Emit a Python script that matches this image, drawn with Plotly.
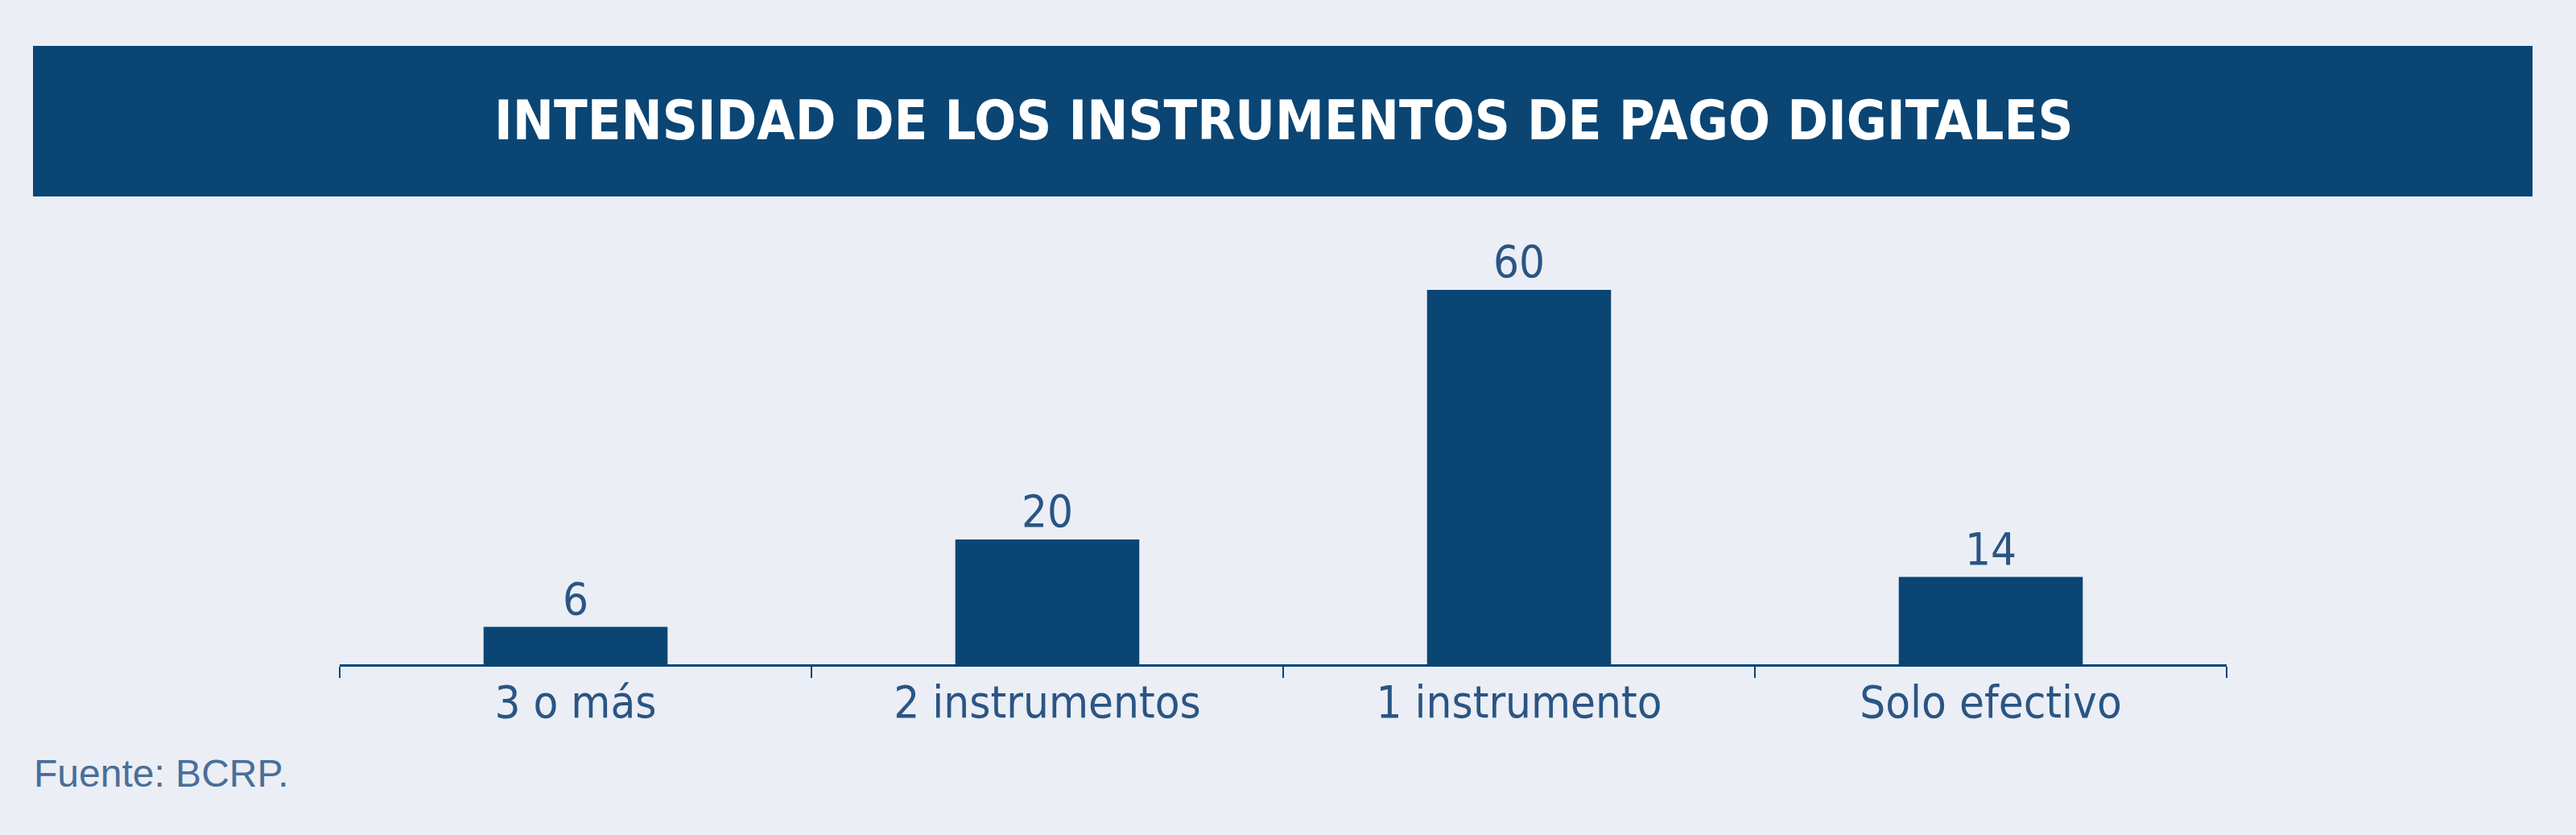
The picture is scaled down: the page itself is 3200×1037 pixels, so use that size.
import plotly.graph_objects as go

# datos del gráfico (porcentaje de personas)
categorias = ["3 o más", "2 instrumentos", "1 instrumento", "Solo efectivo"]
valores = [6, 20, 60, 14]
etiquetas = ["6", "20", "60", "14"]

titulo = "INTENSIDAD DE LOS INSTRUMENTOS DE PAGO DIGITALES"
fuente = "Fuente: BCRP."

AZUL = "#0A4574"
TEXTO = "#2A5584"
FONDO = "#EBEEF5"
FUENTE_TXT = "Liberation Sans Narrow, DejaVu Sans Condensed, sans-serif"

# geometría en píxeles (lienzo 3200x1037)
W, H = 3200, 1037
ML, MR, MT, MB = 422, 434, 300, 212
PW = W - ML - MR
PH = H - MT - MB


def px_x(x):
    return (x - ML) / PW


def px_y(y):
    return (H - MB - y) / PH


fig = go.Figure()

fig.add_trace(go.Bar(
    x=categorias,
    y=valores,
    text=etiquetas,
    textposition="outside",
    textfont=dict(family=FUENTE_TXT, size=56, color=TEXTO),
    marker=dict(color=AZUL, line=dict(width=0)),
    width=0.39,
    cliponaxis=False,
    hoverinfo="skip",
))

# franja del título
fig.add_shape(
    type="rect", xref="paper", yref="paper",
    x0=px_x(41), x1=px_x(3146), y0=px_y(244), y1=px_y(57),
    fillcolor=AZUL, line=dict(width=0), layer="below",
)
fig.add_annotation(
    text="<b>" + titulo + "</b>",
    xref="paper", yref="paper",
    x=px_x(1594), y=px_y(150),
    xanchor="center", yanchor="middle",
    showarrow=False,
    font=dict(family=FUENTE_TXT, size=68, color="white"),
)
fig.add_annotation(
    text=fuente,
    xref="paper", yref="paper",
    x=px_x(40), y=px_y(960),
    xanchor="left", yanchor="middle",
    showarrow=False,
    font=dict(family="Liberation Sans, Arial, sans-serif", size=48, color="#4A6E98"),
)

fig.update_layout(
    width=W, height=H,
    margin=dict(l=ML, r=MR, t=MT, b=MB, pad=0),
    paper_bgcolor=FONDO,
    plot_bgcolor=FONDO,
    showlegend=False,
    xaxis=dict(
        type="category",
        range=[-0.5, 3.5],
        showline=True, linecolor=AZUL, linewidth=3,
        ticks="outside", tickson="boundaries",
        ticklen=14, tickwidth=2, tickcolor=AZUL,
        ticklabelstandoff=-4,
        showgrid=False, zeroline=False,
        tickfont=dict(family=FUENTE_TXT, size=56, color=TEXTO),
    ),
    yaxis=dict(
        range=[0, 60 * PH / 465],
        visible=False,
        showgrid=False, zeroline=False,
    ),
)

# quitar el margen del body para que el gráfico ocupe la ventana
fig.write_html(
    "out.html",
    config={"displayModeBar": False},
    post_script="document.body.style.margin='0';",
)
